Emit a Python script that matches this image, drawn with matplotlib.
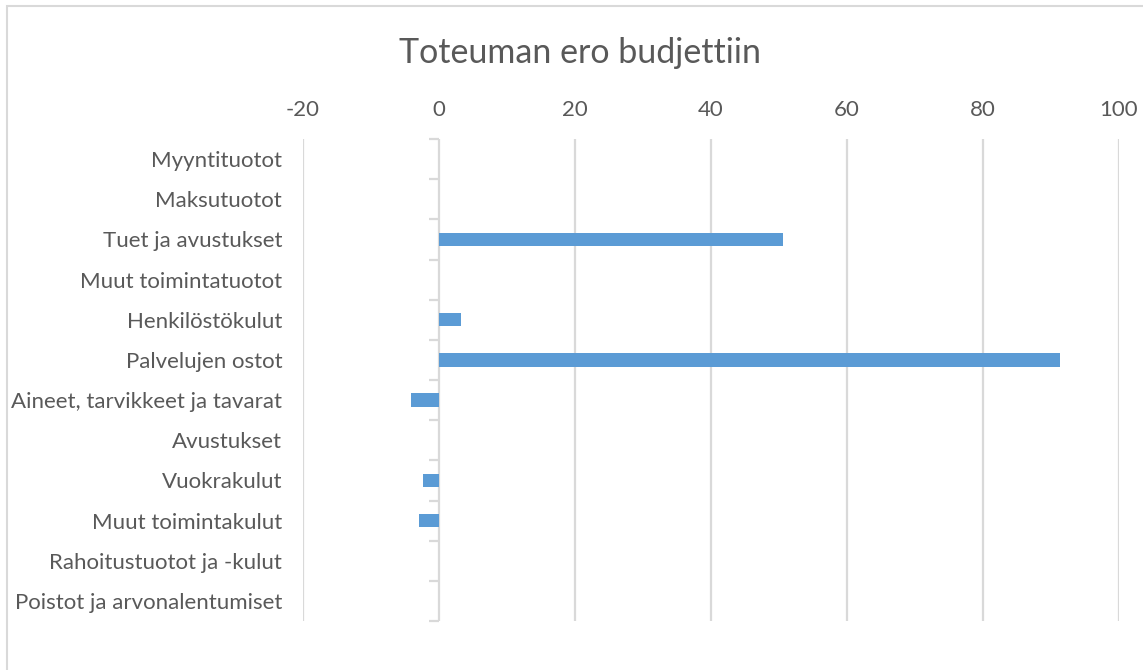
import matplotlib
matplotlib.use("Agg")
import matplotlib.pyplot as plt
from matplotlib.patches import Rectangle
import numpy as np

title = "Toteuman ero budjettiin"
categories = [
    "Myyntituotot",
    "Maksutuotot",
    "Tuet ja avustukset",
    "Muut toimintatuotot",
    "Henkilöstökulut",
    "Palvelujen ostot",
    "Aineet, tarvikkeet ja tavarat",
    "Avustukset",
    "Vuokrakulut",
    "Muut toimintakulut",
    "Rahoitustuotot ja -kulut",
    "Poistot ja arvonalentumiset",
]
values = [0, 0, 50.6, 0, 3.2, 91.3, -4.1, 0, -2.4, -3.0, 0, 0]
x_ticks = [-20, 0, 20, 40, 60, 80, 100]

plt.rcParams['font.family'] = ['Lato', 'DejaVu Sans']
text_color = '#595959'
grid_color = '#D9D9D9'
bar_color = '#5B9BD5'

W, H = 1143, 670
fig = plt.figure(figsize=(W / 100, H / 100), dpi=100)
fig.patch.set_facecolor('white')

left, right = 303 / W, 1119 / W
top, bottom = 1 - 139 / H, 1 - 621 / H
ax = fig.add_axes([left, bottom, right - left, top - bottom])

y = np.arange(len(categories))
ax.barh(y, values, height=0.33, color=bar_color, linewidth=0, zorder=3)

ax.set_xlim(x_ticks[0], x_ticks[-1])
ax.set_ylim(len(categories) - 0.5, -0.5)
ax.set_xticks(x_ticks)
ax.set_xticklabels([str(t) for t in x_ticks])
ax.xaxis.tick_top()
ax.tick_params(axis='x', length=0, pad=14, labelsize=16, labelcolor=text_color)
ax.set_yticks(y)
ax.set_yticklabels(categories)
ax.tick_params(axis='y', length=0, pad=15, labelsize=16, labelcolor=text_color)

for s in ax.spines.values():
    s.set_visible(False)

# vertical gridlines; the zero line is the category axis
for t in x_ticks:
    ax.axvline(t, color=grid_color, linewidth=1.6, zorder=1)

# boundary tick marks on the category axis at zero
loc = (0 - x_ticks[0]) / (x_ticks[-1] - x_ticks[0])
sec = ax.secondary_yaxis(loc)
sec.spines['left'].set_visible(False)
sec.set_yticks(np.arange(len(categories) + 1) - 0.5)
sec.set_yticklabels([])
sec.tick_params(axis='y', direction='out', length=7, width=1.6, color=grid_color)

fig.text(580 / W, 1 - 53 / H, title, ha='center', va='center', fontsize=24.5, color=text_color)

# chart border
fig.add_artist(Rectangle((7 / W, -0.05), 1.1, 1 - 6 / H + 0.05, transform=fig.transFigure,
                         fill=False, edgecolor=grid_color, linewidth=1.5))

fig.savefig("out.png", dpi=100, facecolor='white')
